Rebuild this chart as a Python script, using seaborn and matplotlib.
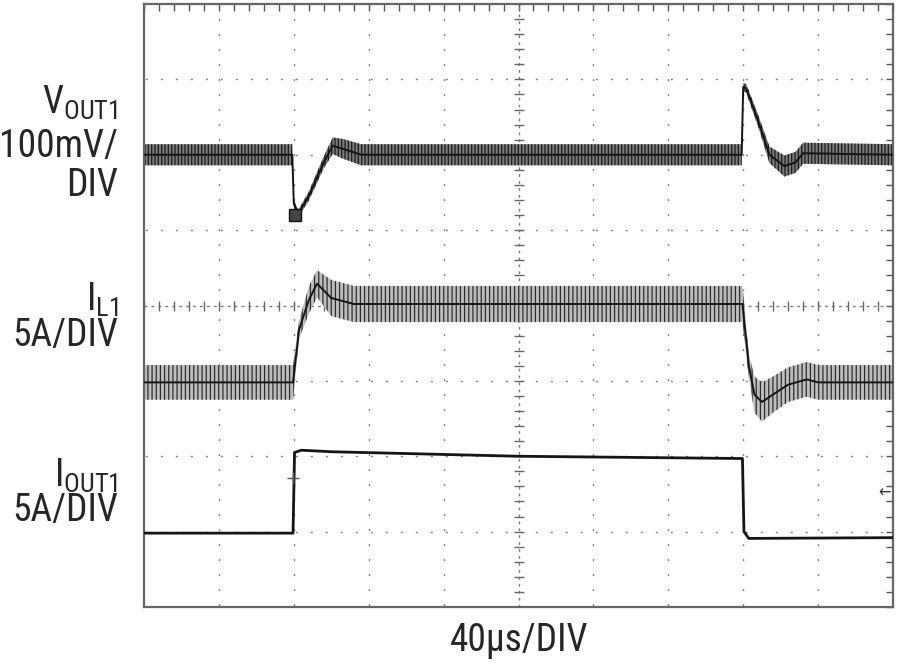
import numpy as np
import pandas as pd
import seaborn as sns
from matplotlib import pyplot as plt
from matplotlib.ticker import MultipleLocator

# time base: 40us/DIV, 10 divisions
time_per_div = 40
# channel positions on screen (div from bottom) and scales (per div)
vout_pos, vout_scale = 6.0, 100.0   # mV/div, ac coupled
il_zero, il_scale = 2.0, 5.0        # A/div
iout_zero, iout_scale = 0.0, 5.0    # A/div

# VOUT1 deviation (mV), with ripple half-amplitude
vout_t = [0, 79.2, 80, 82.4, 88, 96, 100.8, 106, 116, 319.2, 320, 321.6, 328, 334, 342, 348, 352, 400]
vout_mv = [0, 0, -65, -78, -55, -10, 12, 8, 0, 0, 90, 88, 45, 0, -15, -10, 2, 0]
vout_rip = [14, 14, 5, 5, 6, 8, 11, 13, 14, 14, 5, 6, 8, 11, 14, 14, 14, 14]

# IL1 (A)
il_t = [0, 79.6, 82.8, 88, 92.4, 100, 112, 319.6, 323, 326, 330, 336, 344, 354, 360, 400]
il_a = [4.9, 4.9, 8.4, 10.35, 11.45, 10.5, 10.1, 10.1, 6.0, 4.1, 3.6, 4.1, 4.75, 5.1, 4.9, 4.9]
il_rip = [1.15, 1.15, 0.6, 0.9, 0.9, 1.2, 1.2, 1.2, 0.8, 1.2, 1.3, 1.2, 1.15, 1.15, 1.15, 1.15]

# IOUT1 (A)
iout_t = [0, 79.6, 80.4, 84, 100, 200, 319.6, 320.4, 323, 400]
iout_a = [4.9, 4.9, 10.25, 10.4, 10.3, 10.0, 9.85, 5.0, 4.55, 4.6]

# scope markers
vout_cursor = (80.8, -80)
trig_point = (79.4, 8.55)
trig_level = 7.55

sns.set_style("white")
plt.rcParams['font.family'] = ['Roboto Condensed', 'DejaVu Sans Condensed', 'DejaVu Sans']
plt.rcParams['font.stretch'] = 'condensed'
plt.rcParams['hatch.linewidth'] = 0.9

vout = pd.DataFrame({'t': vout_t, 'y': [vout_pos + v / vout_scale for v in vout_mv],
                     'r': [r / vout_scale for r in vout_rip]})
il = pd.DataFrame({'t': il_t, 'y': [il_zero + v / il_scale for v in il_a],
                   'r': [r / il_scale for r in il_rip]})
iout = pd.DataFrame({'t': iout_t, 'y': [iout_zero + v / iout_scale for v in iout_a]})

W, H = 900, 669
fig = plt.figure(figsize=(9, 6.69), dpi=100)
ax = fig.add_axes([144 / W, 1 - 607 / H, (893 - 144) / W, (607 - 4) / H])
ax.set_xlim(0, 10 * time_per_div)
ax.set_ylim(0, 8)

# graticule
grid_c = '#7c7c7c'
for k in range(1, 10):
    if k != 5:
        ax.axvline(k * time_per_div, color=grid_c, lw=1, ls=(9.8, (1.4, 9.4)), zorder=1)
for k in range(1, 8):
    if k != 4:
        ax.axhline(k, color=grid_c, lw=1, ls=(9.8, (1.4, 9.4)), zorder=1)
ax.axvline(5 * time_per_div, color='#7a7a7a', lw=1, ls=(0, (2, 3)), zorder=1)
ax.axhline(4, color='#7a7a7a', lw=1, ls=(0, (2, 3)), zorder=1)
xs = np.arange(0, 10 * time_per_div + 1, time_per_div / 5)
ys = np.arange(0, 8.01, 0.2)
ax.plot(xs, np.full(len(xs), 4.0), ls='none', marker='|', ms=7, mew=1, color='#666', zorder=1)
ax.plot(np.full(len(ys), 5 * time_per_div), ys, ls='none', marker='_', ms=7, mew=1, color='#666', zorder=1)

ax.xaxis.set_major_locator(MultipleLocator(time_per_div))
ax.xaxis.set_minor_locator(MultipleLocator(time_per_div / 5))
ax.yaxis.set_major_locator(MultipleLocator(1))
ax.yaxis.set_minor_locator(MultipleLocator(0.2))
ax.tick_params(which='both', direction='in', top=True, right=True, length=5, width=1,
               color='#555', labelleft=False, labelbottom=False)
for s in ax.spines.values():
    s.set_color('#666')
    s.set_linewidth(1.6)

# ripple envelopes
ax.fill_between(vout['t'], vout['y'] - vout['r'], vout['y'] + vout['r'], facecolor='#7a7a7a',
                edgecolor='#1e1e1e', hatch='|||||', linewidth=0, zorder=2)
ax.fill_between(il['t'], il['y'] - il['r'], il['y'] + il['r'], facecolor='#bdbdbd',
                edgecolor='#2e2e2e', hatch='||||', linewidth=0, zorder=2)

trace_c = '#151515'
sns.lineplot(data=vout, x='t', y='y', estimator=None, sort=False, color=trace_c, lw=1.4, ax=ax, zorder=3)
sns.lineplot(data=il, x='t', y='y', estimator=None, sort=False, color=trace_c, lw=1.4, ax=ax, zorder=3)
sns.lineplot(data=iout, x='t', y='y', estimator=None, sort=False, color=trace_c, lw=2.0, ax=ax, zorder=3)

ax.plot(vout_cursor[0], vout_pos + vout_cursor[1] / vout_scale, marker='s', ms=8,
        mfc='#444', mec='#111', zorder=4)
ax.plot(trig_point[0], iout_zero + trig_point[1] / iout_scale, marker='+', ms=8, mew=1,
        color='#555', zorder=4)
ax.text(10 * time_per_div - 1, iout_zero + trig_level / iout_scale, '\u2190', ha='right', va='center',
        fontsize=12, color='#333', family='DejaVu Sans')
ax.set_xlabel('')
ax.set_ylabel('')

# channel labels
txt = dict(ha='right', va='baseline', fontsize=27, color='#262626')
xr = 118 / W
fig.text(xr, 1 - 114 / H, r'$\mathregular{V_{OUT1}}$', **txt)
fig.text(xr, 1 - 157 / H, '100mV/', **txt)
fig.text(xr, 1 - 196 / H, 'DIV', **txt)
fig.text(xr, 1 - 311 / H, r'$\mathregular{I_{L1}}$', **txt)
fig.text(xr, 1 - 346 / H, '5A/DIV', **txt)
fig.text(xr, 1 - 487 / H, r'$\mathregular{I_{OUT1}}$', **txt)
fig.text(xr, 1 - 521 / H, '5A/DIV', **txt)
fig.text(519 / W, 1 - 651 / H, '40\u00b5s/DIV', ha='center', va='baseline', fontsize=27, color='#262626')

fig.savefig('out.png', dpi=100)
